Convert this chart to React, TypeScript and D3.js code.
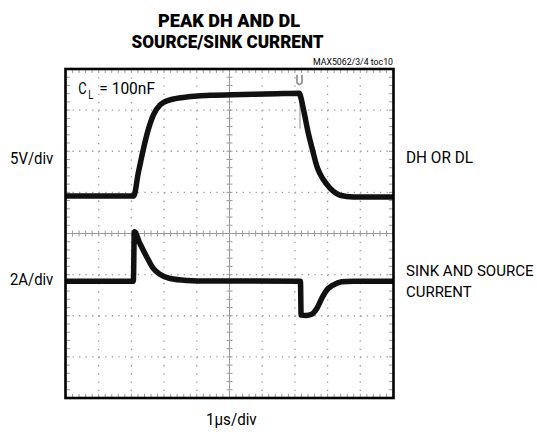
import React from 'react';
import * as d3 from 'd3';

// scope screenshot: 10 x 8 divisions, 1us/div
const titleLines = ['PEAK DH AND DL', 'SOURCE/SINK CURRENT'];
const figureId = 'MAX5062/3/4 toc10';
const xDivs = 10;
const yDivs = 8;

// CH1 - DH or DL output, 5V/div (time in us, volts)
const ch1Time = [0, 2.07, 2.21, 2.36, 2.51, 2.67, 2.87, 3.18, 3.69, 4.4, 5.41, 6.45, 7.14, 7.17, 7.28, 7.41, 7.54, 7.67, 7.77, 7.97, 8.17, 8.38, 8.78, 10];
const ch1Volts = [0, 0, 2.8, 5.6, 8.0, 9.85, 11.05, 11.7, 12.05, 12.25, 12.35, 12.45, 12.5, 12.15, 10.2, 7.65, 5.6, 3.65, 2.7, 1.45, 0.6, 0.1, -0.1, -0.1];

// CH2 - sink and source current, 2A/div (time in us, amps)
const ch2Time = [0, 2.06, 2.09, 2.26, 2.47, 2.67, 2.87, 3.18, 3.69, 4.4, 7.17, 7.19, 7.34, 7.51, 7.67, 7.82, 7.97, 8.17, 8.43, 8.78, 10];
const ch2Amps = [0, 0, 2.4, 1.83, 1.18, 0.62, 0.34, 0.13, 0.04, 0.01, 0, -1.65, -1.67, -1.61, -1.33, -0.84, -0.44, -0.19, -0.03, 0, 0];

const ch1PerDiv = 5;
const ch2PerDiv = 2;
const ch1Offset = 0.91; // divisions above centre
const ch2Offset = -1.16;
const triggerTime = 7.14;

const font = 'Roboto, "Liberation Sans Narrow", "DejaVu Sans Condensed", sans-serif';

export default function App() {
  const x = d3.scaleLinear().domain([0, xDivs]).range([66, 393]);
  const y = d3.scaleLinear().domain([-yDivs / 2, yDivs / 2]).range([398, 69]);
  const xStep = x(1) - x(0);
  const yStep = y(0) - y(1);

  const line = d3.line<[number, number]>()
    .x(d => x(d[0]))
    .y(d => y(d[1]))
    .curve(d3.curveMonotoneX);

  const ch1 = line(ch1Time.map((t, i) => [t, ch1Offset + ch1Volts[i] / ch1PerDiv]));
  const ch2 = line(ch2Time.map((t, i) => [t, ch2Offset + ch2Amps[i] / ch2PerDiv]));

  const grey = '#9a9a9a';
  const minorX = d3.range(0, xDivs * 5 + 1).map(i => i / 5);
  const minorY = d3.range(0, yDivs * 5 + 1).map(i => -yDivs / 2 + i / 5);

  return (
    <svg width={537} height={437} style={{ position: 'absolute', left: 0, top: 0, background: '#fff' }}>
      {/* title */}
      <text x={229} y={26.7} fontFamily={font} fontWeight={900} fontSize={19} textAnchor="middle"
        textLength={142} lengthAdjust="spacingAndGlyphs">{titleLines[0]}</text>
      <text x={227.5} y={47.7} fontFamily={font} fontWeight={900} fontSize={19} textAnchor="middle"
        textLength={192} lengthAdjust="spacingAndGlyphs">{titleLines[1]}</text>
      <text x={393} y={64.5} fontFamily={font} fontSize={8.5} textAnchor="end"
        textLength={80} lengthAdjust="spacingAndGlyphs">{figureId}</text>

      {/* dotted grid */}
      <g stroke={grey} strokeWidth={1.3}>
        {d3.range(1, xDivs).filter(i => i !== xDivs / 2).map(i => (
          <line key={'v' + i} x1={x(i)} x2={x(i)} y1={y(yDivs / 2)} y2={y(-yDivs / 2)}
            strokeDasharray={`1.3 ${yStep / 5 - 1.3}`} />
        ))}
        {d3.range(-yDivs / 2 + 1, yDivs / 2).filter(i => i !== 0).map(i => (
          <line key={'h' + i} x1={x(0)} x2={x(xDivs)} y1={y(i)} y2={y(i)}
            strokeDasharray={`1.3 ${xStep / 5 - 1.3}`} />
        ))}
      </g>
      {/* centre axes with minor ticks */}
      <g stroke={grey} strokeWidth={1}>
        <line x1={x(0)} x2={x(xDivs)} y1={y(0)} y2={y(0)} />
        <line x1={x(xDivs / 2)} x2={x(xDivs / 2)} y1={y(yDivs / 2)} y2={y(-yDivs / 2)} />
        {minorX.map(t => (
          <line key={'cx' + t} x1={x(t)} x2={x(t)} y1={y(0) - 3} y2={y(0) + 3} />
        ))}
        {minorY.map(v => (
          <line key={'cy' + v} x1={x(xDivs / 2) - 3} x2={x(xDivs / 2) + 3} y1={y(v)} y2={y(v)} />
        ))}
        {minorX.map(t => (
          <g key={'ex' + t}>
            <line x1={x(t)} x2={x(t)} y1={y(yDivs / 2)} y2={y(yDivs / 2) + 4} />
            <line x1={x(t)} x2={x(t)} y1={y(-yDivs / 2)} y2={y(-yDivs / 2) - 4} />
          </g>
        ))}
        {minorY.map(v => (
          <g key={'ey' + v}>
            <line x1={x(0)} x2={x(0) + 4} y1={y(v)} y2={y(v)} />
            <line x1={x(xDivs)} x2={x(xDivs) - 4} y1={y(v)} y2={y(v)} />
          </g>
        ))}
      </g>

      {/* trigger marker */}
      <g stroke="#8a8a8a" fill="none">
        <path strokeWidth={1.6}
          d={`M${x(triggerTime) - 2.5},${y(3.86)} v8 q2.5,3.5 5,0 v-8`} />
        <line strokeWidth={1} x1={x(triggerTime) + 0.5} x2={x(triggerTime) + 0.5} y1={y(3.3)} y2={y(2.55)} />
      </g>

      {/* traces */}
      <path d={ch1 ?? ''} fill="none" stroke="#111" strokeWidth={5.5} strokeLinejoin="round" />
      <path d={ch2 ?? ''} fill="none" stroke="#111" strokeWidth={5.5} strokeLinejoin="round" />

      {/* frame */}
      <rect x={x(0) - 0.5} y={y(yDivs / 2)} width={x(xDivs) - x(0) + 1} height={y(-yDivs / 2) - y(yDivs / 2)}
        fill="none" stroke="#000" strokeWidth={2.6} />

      {/* in-plot label */}
      <text x={78.3} y={94.3} fontFamily={font} fontSize={16.3} textLength={8.4} lengthAdjust="spacingAndGlyphs">C</text>
      <text x={88.3} y={98.5} fontFamily={font} fontSize={12.5} textLength={5} lengthAdjust="spacingAndGlyphs">L</text>
      <text x={99.3} y={94.3} fontFamily={font} fontSize={16.3} textLength={55.7} lengthAdjust="spacingAndGlyphs">= 100nF</text>

      {/* scale annotations */}
      <text x={10} y={163.5} fontFamily={font} fontSize={16} textLength={43.3} lengthAdjust="spacingAndGlyphs">5V/div</text>
      <text x={10} y={284.5} fontFamily={font} fontSize={16} textLength={43.3} lengthAdjust="spacingAndGlyphs">2A/div</text>
      <text x={406} y={163.3} fontFamily={font} fontSize={16} textLength={67} lengthAdjust="spacingAndGlyphs">DH OR DL</text>
      <text x={406} y={276} fontFamily={font} fontSize={15} textLength={127.5} lengthAdjust="spacingAndGlyphs">SINK AND SOURCE</text>
      <text x={406} y={296.7} fontFamily={font} fontSize={15.5} textLength={65.7} lengthAdjust="spacingAndGlyphs">CURRENT</text>
      <text x={206} y={425} fontFamily={font} fontSize={16} textLength={50.7} lengthAdjust="spacingAndGlyphs">1μs/div</text>
    </svg>
  );
}
